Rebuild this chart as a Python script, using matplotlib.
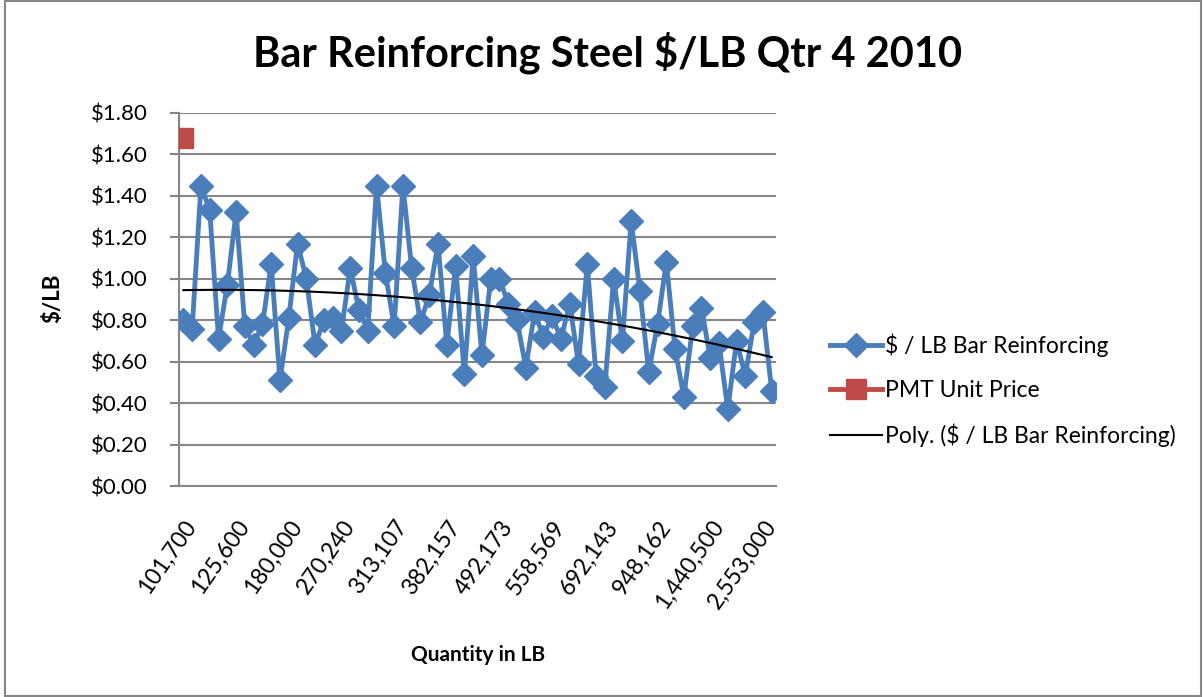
import numpy as np
import matplotlib.pyplot as plt
from matplotlib.patches import Rectangle

plt.rcParams['font.family'] = ['Lato', 'DejaVu Sans']

# Data (68 quantity categories, labelled every 6th)
tick_labels = ['101,700', '125,600', '180,000', '270,240', '313,107', '382,157',
               '492,173', '558,569', '692,143', '948,162', '1,440,500', '2,553,000']
price_per_lb = [0.80, 0.76, 1.45, 1.33, 0.71, 0.97, 1.32, 0.77, 0.68, 0.78,
                1.07, 0.51, 0.81, 1.17, 1.00, 0.68, 0.80, 0.81, 0.75, 1.05,
                0.85, 0.75, 1.45, 1.03, 0.77, 1.45, 1.05, 0.79, 0.92, 1.17,
                0.68, 1.06, 0.54, 1.11, 0.63, 1.00, 1.00, 0.88, 0.80, 0.57,
                0.84, 0.72, 0.82, 0.71, 0.88, 0.59, 1.07, 0.53, 0.48, 1.00,
                0.70, 1.28, 0.94, 0.55, 0.78, 1.08, 0.66, 0.43, 0.77, 0.86,
                0.62, 0.69, 0.37, 0.70, 0.53, 0.79, 0.84, 0.46]
pmt_unit_price = [1.68]

blue = '#4A7EBB'
red = '#BE4B48'
grid_grey = '#868686'

x = np.arange(len(price_per_lb))
y = np.array(price_per_lb)

# 2nd order polynomial trendline, like Excel's "Poly."
coef = np.polyfit(x + 1, y, 2)
trend = np.polyval(coef, x + 1)

fig = plt.figure(figsize=(12.03, 6.97), dpi=100)
ax = fig.add_axes([0.1488, 0.3027, 0.4963, 0.5352])

ax.plot(x, y, color=blue, lw=3.5, marker='D', markersize=12,
        label='\\$ / LB Bar Reinforcing', zorder=3)
ax.plot([0], pmt_unit_price, color=red, lw=3.5, marker='s', markersize=14.5,
        label='PMT Unit Price', zorder=4)
ax.plot(x, trend, color='black', lw=1.5, label='Poly. (\\$ / LB Bar Reinforcing)', zorder=5)

ax.set_xlim(-0.5, len(x) - 0.5)
ax.set_ylim(0, 1.8)
yt = np.arange(0, 1.81, 0.2)
ax.set_yticks(yt)
ax.set_yticklabels(['\\$%.2f' % v for v in yt], fontsize=16)
ax.grid(axis='y', color=grid_grey, lw=1.5)
ax.set_axisbelow(True)

ax.set_xticks(x[::6])
ax.set_xticklabels(tick_labels, rotation=55, ha='right', va='top',
                   rotation_mode='anchor', fontsize=16.5)
ax.tick_params(axis='x', length=0, pad=22)
ax.tick_params(axis='y', length=6.5, width=1.5, color=grid_grey, pad=16)

for s in ['top', 'right']:
    ax.spines[s].set_visible(False)
for s in ['left', 'bottom']:
    ax.spines[s].set_color(grid_grey)
    ax.spines[s].set_linewidth(1.5)

fig.text(0.044, 0.5725, '\\$/LB', fontsize=16, fontweight='bold',
         rotation=90, ha='center', va='center')
fig.text(0.397, 0.06, 'Quantity in LB', fontsize=15, fontweight='bold',
         ha='center', va='center')
fig.text(0.505, 0.925, 'Bar Reinforcing Steel \\$/LB Qtr 4 2010',
         fontsize=30, fontweight='bold', ha='center', va='center')

leg = fig.legend(loc='center left', bbox_to_anchor=(0.682, 0.44), frameon=False,
                 fontsize=16.5, handlelength=2.3, labelspacing=1.0,
                 handletextpad=0.1, borderaxespad=0)

fig.patches.append(Rectangle((0.004, 0.002), 0.994, 0.996, transform=fig.transFigure,
                             fill=False, edgecolor=grid_grey, lw=1.5))

fig.savefig('out.png', dpi=100)
